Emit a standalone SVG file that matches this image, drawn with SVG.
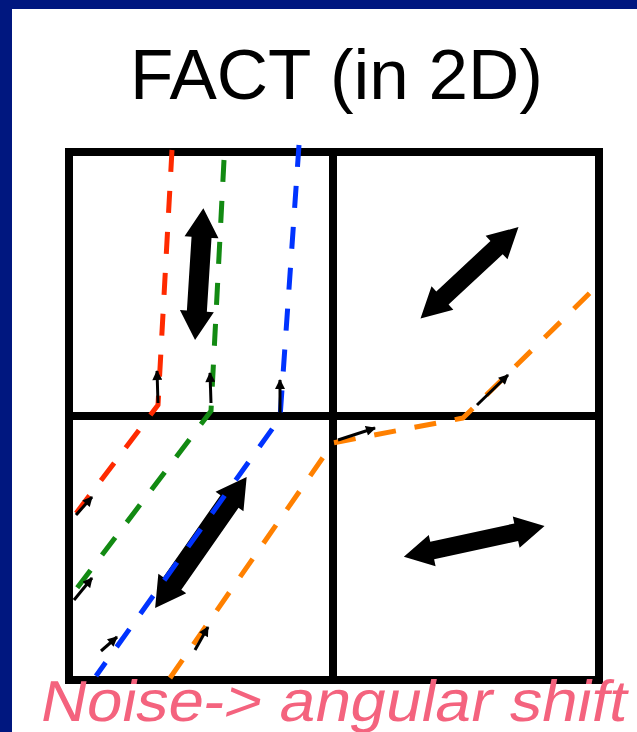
<svg xmlns="http://www.w3.org/2000/svg" width="637" height="732" viewBox="0 0 637 732">
<style>
.frame{fill:none;stroke:#000;stroke-width:8}
.dash{fill:none;stroke-width:5;stroke-dasharray:22 19;stroke-linejoin:round}
.big{fill:#000}
.small{fill:none;stroke:#000;stroke-width:3;marker-end:url(#ah)}
.title{font-family:"Liberation Sans",Arial,sans-serif;font-size:71px;fill:#000}
.caption{font-family:"Liberation Sans",Arial,sans-serif;font-size:58px;fill:#f4637e}
</style>
<defs>
<marker id="ah" viewBox="0 0 10 10" refX="9" refY="5" markerWidth="11" markerHeight="10" markerUnits="userSpaceOnUse" orient="auto">
<path d="M0,0 L10,5 L0,10 z" fill="#000"/>
</marker>
</defs>
<rect x="0" y="0" width="637" height="732" fill="#00177f"/>
<rect x="12" y="9" width="625" height="723" fill="#fff"/>
<g id="title"><text class="title" x="130" y="99">FACT (in 2D)</text></g>
<g id="grid">
<rect class="frame" x="69" y="152" width="530" height="528"/>
<line class="frame" x1="333" y1="152" x2="333" y2="680"/>
<line class="frame" x1="69" y1="416" x2="599" y2="416"/>
</g>
<g id="big-arrows">
<g id="arrow-tl" transform="translate(199.2,274.2) rotate(-86.4)"><polygon class="big" points="-66,0 -37,-17 -37,-10 37,-10 37,-17 66,0 37,17 37,10 -37,10 -37,17"/></g>
<g id="arrow-tr" transform="translate(469.5,272.8) rotate(-43)"><polygon class="big" points="-67,0 -37,-16 -37,-9 37,-9 37,-16 67,0 37,16 37,9 -37,9 -37,16"/></g>
<g id="arrow-bl" transform="translate(200.9,542.5) rotate(-55.1)"><polygon class="big" points="-80,0 -50,-17 -50,-11 50,-11 50,-17 80,0 50,17 50,11 -50,11 -50,17"/></g>
<g id="arrow-br" transform="translate(474.2,541.4) rotate(-12.3)"><polygon class="big" points="-72,0 -43,-16 -43,-9 43,-9 43,-16 72,0 43,16 43,9 -43,9 -43,16"/></g>
</g>
<g id="connectors">
<path id="path-red" class="dash" stroke="#ff2a00" d="M172,150 L158,405 L68,524"/>
<path id="path-green" class="dash" stroke="#128a12" d="M224,160 L211,411 L68,600"/>
<path id="path-blue" class="dash" stroke="#0033ff" d="M299,145 L280,418 L96,676"/>
<path id="path-orange" class="dash" stroke="#ff8000" d="M170,678 L333,443 L463,418 L598,285"/>
<path class="small" d="M158,403 L157,371"/>
<path class="small" d="M211,403 L210,373"/>
<path class="small" d="M280,416 L280,380"/>
<path class="small" d="M76,515 L92,497"/>
<path class="small" d="M74,600 L92,578"/>
<path class="small" d="M101,651 L117,637"/>
<path class="small" d="M195,650 L208,627"/>
<path class="small" d="M338,440 L375,428"/>
<path class="small" d="M477,405 L508,375"/>
</g>
<g id="caption" transform="translate(38,721) skewX(-11)"><text class="caption" x="0" y="0" textLength="586" lengthAdjust="spacingAndGlyphs">Noise-&gt; angular shift</text></g>
</svg>
